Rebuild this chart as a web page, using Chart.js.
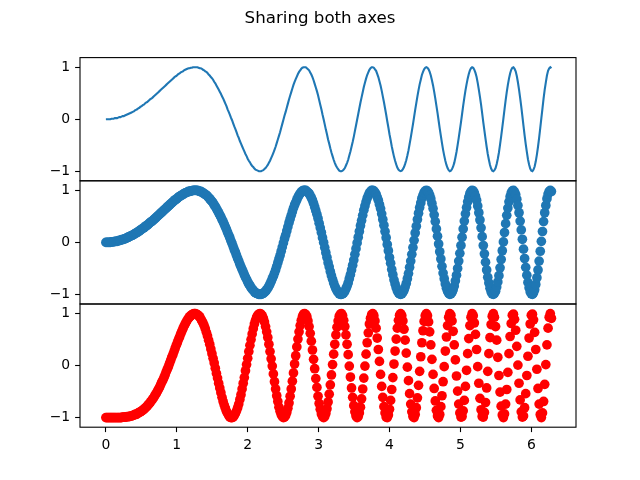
<!DOCTYPE html>
<html>
<head>
<meta charset="utf-8">
<title>Sharing both axes</title>
<script src="https://cdn.jsdelivr.net/npm/chart.js@4.4.0/dist/chart.umd.min.js"></script>
<style>
    body { margin: 0; padding: 0; background: #fff; width: 640px; height: 480px; overflow: hidden; position: relative; }
    canvas { position: absolute; left: 0; top: 0; }
</style>
</head>
<body>
<canvas id="c1" width="640" height="480"></canvas>
<canvas id="c2" width="640" height="480"></canvas>
<canvas id="c3" width="640" height="480"></canvas>
<script>
// ── Data ─────────────────────────────────────────────────────────────────
// 400 samples spread evenly from x = 0 to x ≈ 6.28.
const X_FIRST = 0;
const X_LAST = 6.2832;

// top two panels: the wave (line, then blue dots)
const ySin = [
    0, 0, 0, 0, 0, 0.01, 0.01, 0.01, 0.02, 0.02, 0.02, 0.03, 0.04, 0.04, 0.05, 0.06, 0.06, 0.07, 0.08, 0.09,
    0.10, 0.11, 0.12, 0.13, 0.14, 0.15, 0.17, 0.18, 0.19, 0.21, 0.22, 0.24, 0.25, 0.27, 0.28, 0.30, 0.32, 0.33, 0.35, 0.37,
    0.39, 0.40, 0.42, 0.44, 0.46, 0.48, 0.50, 0.52, 0.54, 0.56, 0.58, 0.60, 0.62, 0.64, 0.66, 0.68, 0.70, 0.72, 0.74, 0.76,
    0.78, 0.80, 0.82, 0.83, 0.85, 0.87, 0.88, 0.90, 0.91, 0.92, 0.94, 0.95, 0.96, 0.97, 0.98, 0.98, 0.99, 0.99, 1.00, 1.00,
    1.00, 1.00, 1.00, 0.99, 0.98, 0.98, 0.97, 0.95, 0.94, 0.92, 0.91, 0.89, 0.86, 0.84, 0.81, 0.79, 0.76, 0.72, 0.69, 0.65,
    0.61, 0.57, 0.53, 0.49, 0.44, 0.40, 0.35, 0.30, 0.25, 0.19, 0.14, 0.09, 0.03, -0.02, -0.08, -0.14, -0.19, -0.25, -0.31, -0.36,
    -0.42, -0.47, -0.52, -0.57, -0.62, -0.67, -0.71, -0.76, -0.80, -0.83, -0.87, -0.90, -0.92, -0.95, -0.97, -0.98, -0.99, -1.00, -1.00, -1.00,
    -0.99, -0.98, -0.96, -0.94, -0.91, -0.88, -0.84, -0.80, -0.75, -0.70, -0.65, -0.59, -0.53, -0.46, -0.39, -0.32, -0.25, -0.17, -0.09, -0.01,
    0.07, 0.14, 0.22, 0.30, 0.38, 0.45, 0.52, 0.59, 0.66, 0.72, 0.77, 0.82, 0.87, 0.91, 0.94, 0.97, 0.99, 1.00, 1.00, 1.00,
    0.98, 0.96, 0.94, 0.90, 0.86, 0.81, 0.75, 0.68, 0.61, 0.54, 0.46, 0.37, 0.28, 0.19, 0.09, 0, -0.10, -0.20, -0.29, -0.39,
    -0.47, -0.56, -0.64, -0.71, -0.78, -0.84, -0.89, -0.93, -0.96, -0.99, -1.00, -1.00, -0.99, -0.97, -0.94, -0.89, -0.84, -0.78, -0.70, -0.62,
    -0.53, -0.44, -0.34, -0.23, -0.12, -0.01, 0.10, 0.21, 0.32, 0.42, 0.52, 0.62, 0.70, 0.78, 0.85, 0.90, 0.95, 0.98, 1.00, 1.00,
    0.99, 0.96, 0.93, 0.87, 0.81, 0.73, 0.65, 0.55, 0.44, 0.33, 0.21, 0.09, -0.04, -0.16, -0.29, -0.40, -0.52, -0.62, -0.72, -0.80,
    -0.87, -0.93, -0.97, -0.99, -1.00, -0.99, -0.96, -0.92, -0.86, -0.79, -0.70, -0.60, -0.48, -0.36, -0.23, -0.10, 0.04, 0.18, 0.31, 0.44,
    0.56, 0.67, 0.76, 0.85, 0.91, 0.96, 0.99, 1.00, 0.99, 0.96, 0.91, 0.84, 0.75, 0.65, 0.53, 0.40, 0.26, 0.12, -0.03, -0.18,
    -0.32, -0.46, -0.59, -0.70, -0.80, -0.88, -0.94, -0.98, -1.00, -0.99, -0.96, -0.91, -0.84, -0.74, -0.63, -0.50, -0.36, -0.21, -0.06, 0.10,
    0.26, 0.41, 0.55, 0.67, 0.78, 0.87, 0.94, 0.98, 1.00, 0.99, 0.95, 0.89, 0.81, 0.70, 0.57, 0.43, 0.28, 0.11, -0.06, -0.22,
    -0.38, -0.53, -0.67, -0.78, -0.88, -0.95, -0.99, -1.00, -0.98, -0.94, -0.86, -0.76, -0.64, -0.49, -0.33, -0.16, 0.01, 0.19, 0.36, 0.52,
    0.66, 0.78, 0.88, 0.95, 0.99, 1.00, 0.97, 0.92, 0.83, 0.71, 0.57, 0.41, 0.24, 0.06, -0.13, -0.31, -0.48, -0.63, -0.77, -0.87,
    -0.95, -0.99, -1.00, -0.97, -0.91, -0.81, -0.68, -0.53, -0.36, -0.17, 0.02, 0.21, 0.40, 0.57, 0.71, 0.84, 0.93, 0.98, 1.00, 0.98
];

// bottom panel: red dots
const ySquare = [
    -1, -1, -1, -1, -1, -1, -1, -1, -1, -1, -1, -1, -1, -1, -1, -0.99, -0.99, -0.99, -0.99, -0.98,
    -0.98, -0.98, -0.97, -0.97, -0.96, -0.95, -0.94, -0.94, -0.93, -0.91, -0.90, -0.89, -0.87, -0.86, -0.84, -0.82, -0.80, -0.78, -0.75, -0.73,
    -0.70, -0.67, -0.64, -0.61, -0.57, -0.54, -0.50, -0.46, -0.42, -0.37, -0.32, -0.28, -0.23, -0.18, -0.12, -0.07, -0.02, 0.04, 0.10, 0.16,
    0.21, 0.27, 0.33, 0.39, 0.44, 0.50, 0.55, 0.61, 0.66, 0.71, 0.76, 0.80, 0.84, 0.88, 0.91, 0.94, 0.96, 0.98, 0.99, 1.00,
    1.00, 0.99, 0.98, 0.96, 0.94, 0.90, 0.86, 0.82, 0.77, 0.71, 0.64, 0.57, 0.49, 0.41, 0.32, 0.23, 0.14, 0.05, -0.05, -0.15,
    -0.24, -0.34, -0.43, -0.52, -0.61, -0.69, -0.76, -0.82, -0.88, -0.92, -0.96, -0.99, -1.00, -1.00, -0.99, -0.96, -0.92, -0.87, -0.81, -0.74,
    -0.65, -0.56, -0.45, -0.34, -0.23, -0.10, 0.02, 0.14, 0.27, 0.39, 0.50, 0.61, 0.71, 0.80, 0.87, 0.93, 0.97, 0.99, 1.00, 0.99,
    0.96, 0.91, 0.84, 0.75, 0.65, 0.54, 0.41, 0.27, 0.13, -0.01, -0.16, -0.31, -0.45, -0.58, -0.69, -0.80, -0.88, -0.94, -0.98, -1.00,
    -0.99, -0.96, -0.90, -0.82, -0.72, -0.59, -0.45, -0.30, -0.14, 0.03, 0.19, 0.36, 0.51, 0.65, 0.77, 0.87, 0.94, 0.99, 1.00, 0.98,
    0.94, 0.86, 0.75, 0.62, 0.47, 0.30, 0.12, -0.06, -0.25, -0.42, -0.59, -0.73, -0.84, -0.93, -0.98, -1.00, -0.98, -0.92, -0.83, -0.70,
    -0.55, -0.37, -0.18, 0.02, 0.22, 0.41, 0.59, 0.74, 0.86, 0.95, 0.99, 1.00, 0.96, 0.87, 0.75, 0.59, 0.41, 0.21, -0.01, -0.22,
    -0.43, -0.61, -0.77, -0.89, -0.97, -1.00, -0.98, -0.91, -0.80, -0.64, -0.45, -0.24, -0.01, 0.22, 0.44, 0.63, 0.80, 0.91, 0.98, 1.00,
    0.96, 0.86, 0.72, 0.53, 0.31, 0.08, -0.17, -0.40, -0.61, -0.79, -0.91, -0.99, -1.00, -0.95, -0.84, -0.67, -0.46, -0.23, 0.03, 0.28,
    0.51, 0.72, 0.87, 0.97, 1.00, 0.96, 0.86, 0.70, 0.49, 0.24, -0.03, -0.29, -0.54, -0.74, -0.89, -0.98, -1.00, -0.94, -0.81, -0.62,
    -0.38, -0.11, 0.17, 0.44, 0.67, 0.85, 0.96, 1.00, 0.96, 0.84, 0.65, 0.40, 0.12, -0.17, -0.44, -0.68, -0.86, -0.97, -1.00, -0.94,
    -0.79, -0.58, -0.31, -0.02, 0.28, 0.55, 0.77, 0.93, 1.00, 0.97, 0.86, 0.66, 0.40, 0.11, -0.20, -0.49, -0.74, -0.91, -0.99, -0.98,
    -0.87, -0.67, -0.40, -0.09, 0.23, 0.52, 0.77, 0.93, 1.00, 0.96, 0.82, 0.60, 0.31, -0.02, -0.34, -0.63, -0.85, -0.98, -0.99, -0.90,
    -0.71, -0.43, -0.11, 0.23, 0.54, 0.79, 0.95, 1.00, 0.93, 0.75, 0.49, 0.16, -0.19, -0.51, -0.78, -0.95, -1.00, -0.93, -0.74, -0.46,
    -0.13, 0.23, 0.56, 0.81, 0.97, 0.99, 0.89, 0.68, 0.37, 0.01, -0.34, -0.66, -0.89, -0.99, -0.97, -0.81, -0.54, -0.19, 0.18, 0.53,
    0.80, 0.97, 0.99, 0.88, 0.64, 0.31, -0.07, -0.44, -0.74, -0.94, -1.00, -0.91, -0.69, -0.36, 0.02, 0.40, 0.72, 0.93, 1.00, 0.91
];

const xTicks = [0, 1, 2, 3, 4, 5, 6];
const yTicks = [-1, 0, 1];

// shared axis limits
const X_MIN = -0.365, X_MAX = 6.63;
const Y_MIN = -1.185, Y_MAX = 1.185;

// ── Layout ────────────────────────────────────────────────────────────────
const PANEL_TOP = [57.6, 180.8, 304];
const PANEL_H = 123.2;
const FONT = '"DejaVu Sans", Arial, sans-serif';

// evenly spaced sample positions along x
const xSamples = ySin.map((_, i) => X_FIRST + (X_LAST - X_FIRST) * i / (ySin.length - 1));
const toPoints = ys => ys.map((y, i) => ({ x: xSamples[i], y: y }));

// black box around each panel
const frame = {
    id: 'frame',
    afterDraw(chart) {
        const a = chart.chartArea, ctx = chart.ctx;
        ctx.save();
        ctx.strokeStyle = '#000';
        ctx.lineWidth = 1.1;
        ctx.strokeRect(a.left, a.top, a.right - a.left, a.bottom - a.top);
        ctx.restore();
    }
};

const suptitle = {
    id: 'suptitle',
    afterDraw(chart) {
        const ctx = chart.ctx;
        ctx.save();
        ctx.fillStyle = '#000';
        ctx.font = '16.67px ' + FONT;
        ctx.textAlign = 'center';
        ctx.textBaseline = 'alphabetic';
        ctx.fillText('Sharing both axes', 320, 23);
        ctx.restore();
    }
};

const tickFont = { family: FONT, size: 13.9 };
const tickGrid = { drawOnChartArea: false, drawTicks: true, tickLength: 4.9, tickWidth: 1.1, tickColor: '#000' };

function makePanel(id, k, dataset, showX, extraPlugins) {
    const top = PANEL_TOP[k];
    return new Chart(document.getElementById(id), {
        type: 'scatter',
        data: { datasets: [dataset] },
        options: {
            responsive: false,
            animation: false,
            events: [],
            layout: { padding: { top: top, left: 0, right: 64, bottom: showX ? 0 : 480 - top - PANEL_H } },
            plugins: { legend: { display: false }, tooltip: { enabled: false } },
            scales: {
                x: {
                    type: 'linear',
                    min: X_MIN, max: X_MAX,
                    display: showX,
                    afterFit: s => { s.height = showX ? 52.8 : 0; },
                    afterBuildTicks: s => { s.ticks = xTicks.map(v => ({ value: v })); },
                    border: { display: false },
                    grid: tickGrid,
                    ticks: { padding: 4.9, color: '#000', font: tickFont, maxRotation: 0, autoSkip: false }
                },
                y: {
                    type: 'linear',
                    min: Y_MIN, max: Y_MAX,
                    afterFit: s => { s.width = 80; },
                    afterBuildTicks: s => { s.ticks = yTicks.map(v => ({ value: v })); },
                    border: { display: false },
                    grid: tickGrid,
                    ticks: {
                        padding: 4.9, color: '#000', font: tickFont, autoSkip: false,
                        callback: v => v < 0 ? '\u2212' + Math.abs(v) : String(v)
                    }
                }
            }
        },
        plugins: [frame].concat(extraPlugins || [])
    });
}

// ── Charts ────────────────────────────────────────────────────────────────
makePanel('c1', 0, {
    data: toPoints(ySin),
    showLine: true,
    borderColor: '#1f77b4',
    borderWidth: 2.1,
    pointRadius: 0,
    fill: false
}, false, [suptitle]);

makePanel('c2', 1, {
    data: toPoints(ySin),
    pointRadius: 4.85,
    pointBorderWidth: 0,
    pointBackgroundColor: '#1f77b4',
    pointBorderColor: '#1f77b4'
}, false);

makePanel('c3', 2, {
    data: toPoints(ySquare),
    pointRadius: 4.85,
    pointBorderWidth: 0,
    pointBackgroundColor: '#ff0000',
    pointBorderColor: '#ff0000'
}, true);
</script>
</body>
</html>
